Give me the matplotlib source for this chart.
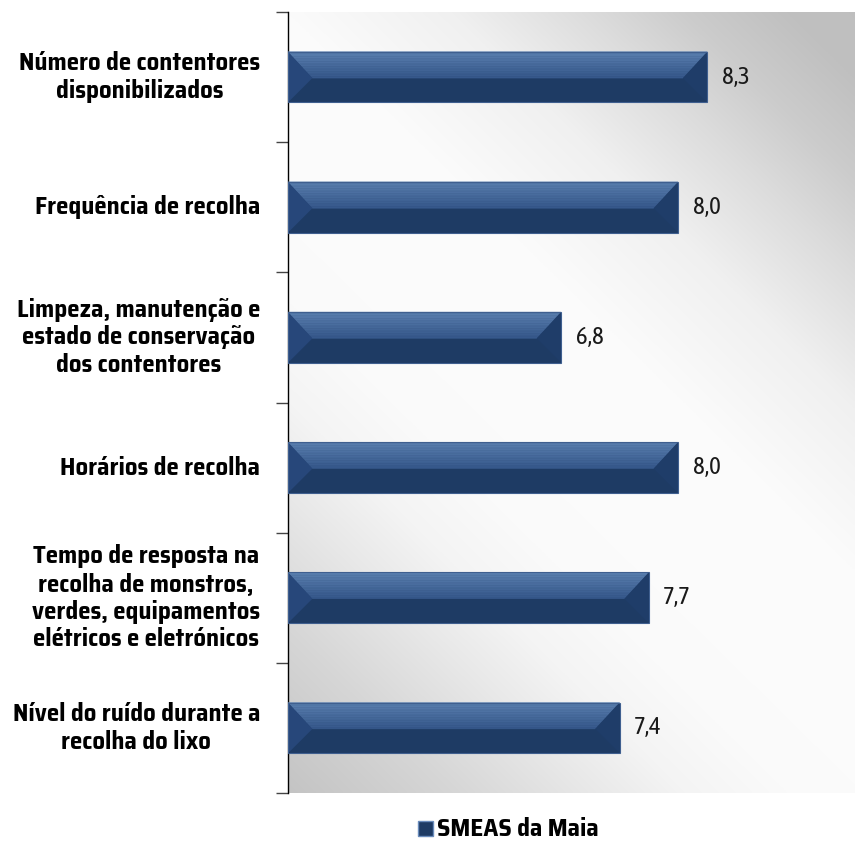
import matplotlib.pyplot as plt
import numpy as np
from matplotlib.patches import Polygon, Rectangle
from matplotlib import font_manager
from matplotlib.colors import to_rgb

categories = [
    'Número de contentores\ndisponibilizados',
    'Frequência de recolha',
    'Limpeza, manutenção e\nestado de conservação\ndos contentores',
    'Horários de recolha',
    'Tempo de resposta na\nrecolha de monstros,\nverdes, equipamentos\nelétricos e eletrónicos',
    'Nível do ruído durante a\nrecolha do lixo',
]
values = [8.3, 8.0, 6.8, 8.0, 7.7, 7.4]
value_labels = ['8,3', '8,0', '6,8', '8,0', '7,7', '7,4']
series_name = 'SMEAS da Maia'

fig = plt.figure(figsize=(8.55, 8.48), dpi=100)
renderer = fig.canvas.get_renderer()


def text_width(fp, s, size):
    t = fig.text(0, 0, s, fontproperties=fp, fontsize=size)
    w = t.get_window_extent(renderer).width
    t.remove()
    return w


def weight_num(w):
    if isinstance(w, (int, float)):
        return w
    return font_manager.weight_dict.get(w, 400)


# the original uses Arial Narrow: look for a narrow / condensed sans face and size it
# so that a few label widths match the original
def pick_font(bold, samples):
    cands = []
    for f in font_manager.fontManager.ttflist:
        fn = f.fname.lower()
        nm = f.name.lower()
        if 'mono' in fn or 'mono' in nm or 'serif' in nm or 'cjk' in nm:
            continue
        if 'italic' in fn or 'oblique' in fn or f.style != 'normal':
            continue
        if not ('narrow' in fn or 'condensed' in fn or f.stretch in ('condensed', 'semi-condensed', 'extra-condensed')):
            continue
        wn = weight_num(f.weight)
        if bold and wn != 700:
            continue
        if not bold and wn != 400:
            continue
        cands.append(f.fname)
    best = None
    for fname in cands:
        fp = font_manager.FontProperties(fname=fname)
        ws = np.array([text_width(fp, s, 18) for s, _ in samples])
        tg = np.array([t for _, t in samples], dtype=float)
        k = np.median(tg / ws)
        err = np.sqrt(np.mean((k * ws / tg - 1) ** 2))
        score = 10 * err + abs(np.log(k))
        if best is None or score < best[0]:
            best = (score, fp, k)
    if best is None:
        fp = font_manager.FontProperties(family='Liberation Sans', weight='bold' if bold else 'normal')
        ws = np.array([text_width(fp, s, 18) for s, _ in samples])
        tg = np.array([t for _, t in samples], dtype=float)
        return fp, 18 * np.median(tg / ws)
    return best[1], 18 * best[2]


fp_bold, size_bold = pick_font(True, [('Número de contentores', 237), ('Frequência de recolha', 227),
                                      ('Limpeza, manutenção e', 244), ('Nível do ruído durante a', 247),
                                      ('Horários de recolha', 199), ('elétricos e eletrónicos', 227)])
fp_reg, size_reg = pick_font(False, [('8,3', 28), ('7,7', 28)])

ax = fig.add_axes([288 / 855, 55 / 848, 567 / 855, 781 / 848])

# background: light band from top-left to bottom-right, grey towards the other two corners
gx, gy = np.meshgrid(np.linspace(0, 1, 400), np.linspace(1, 0, 400))
s = gx + 1.4 * gy
g = np.interp(s, [0, 0.29, 0.53, 0.7, 0.88, 1.15, 1.4, 1.69, 1.93, 2.1, 2.28, 2.5],
              [196, 214, 232, 244, 250, 252, 251, 240, 220, 204, 192, 190]) / 255
ax.imshow(np.dstack([g, g, g]), extent=(0, 1, 0, 1), transform=ax.transAxes,
          aspect='auto', zorder=0, interpolation='bilinear')

ypos = np.arange(len(categories))
h = 0.39
bars = ax.barh(ypos, values, height=h, left=0, color='#1e3b64',
               edgecolor='none', zorder=2)

xmin, xmax = 4.0, 4.0 + 567 / 97.5
bx = 0.25  # bevel width (data units)
c_top, c_mid = np.array(to_rgb('#5b80b0')), np.array(to_rgb('#35578a'))
for b in bars:
    x0 = xmin
    x1 = b.get_x() + b.get_width()
    top = b.get_y()          # axis inverted: smaller y is the upper edge
    bot = b.get_y() + b.get_height()
    mid = top + 0.52 * b.get_height()
    nb = 16
    for i in range(nb):
        fa, fb_ = i / nb, (i + 1) / nb
        ya = top + (mid - top) * fa
        yb = top + (mid - top) * fb_
        col = c_top + (c_mid - c_top) * (i + 0.5) / nb
        ax.add_patch(Polygon([(x0 + bx * fa, ya), (x1 - bx * fa, ya),
                              (x1 - bx * fb_, yb), (x0 + bx * fb_, yb)],
                             closed=True, facecolor=col, edgecolor=col, linewidth=0.3, zorder=3))
    ax.add_patch(Polygon([(x0, top), (x0 + bx, mid), (x0, bot)], closed=True,
                         facecolor='#27477a', edgecolor='none', zorder=3))
    ax.add_patch(Polygon([(x1, top), (x1 - bx, mid), (x1, bot)], closed=True,
                         facecolor='#1f3d69', edgecolor='none', zorder=3))
    ax.add_patch(Rectangle((x0, top), x1 - x0, bot - top, facecolor='none',
                           edgecolor='#3f5f8f', linewidth=0.8, zorder=4))

for y, v, lab in zip(ypos, values, value_labels):
    ax.text(v + 0.15, y, lab, va='center', ha='left', fontproperties=fp_reg,
            fontsize=size_reg, color='#1a1a1a', zorder=5)

ax.set_xlim(xmin, xmax)
ax.set_ylim(len(categories) - 0.5, -0.5)

for sp in ['top', 'right', 'bottom']:
    ax.spines[sp].set_visible(False)
ax.spines['left'].set_color('black')
ax.spines['left'].set_linewidth(1.0)
ax.set_xticks([])
ax.set_yticks(np.arange(-0.5, len(categories), 1.0))
ax.set_yticklabels([])
ax.tick_params(axis='y', length=9, width=1, color='#444444')

tr = ax.get_yaxis_transform()
for y, c in zip(ypos, categories):
    ax.text(-28 / 567, y, c, transform=tr, ha='right', va='center', multialignment='center',
            fontproperties=fp_bold, fontsize=size_bold, color='black', linespacing=1.2)

# legend
ax.add_patch(Rectangle((418 / 855, 1 - 836 / 848), 15 / 855, 15 / 848, transform=fig.transFigure,
                       facecolor='#1e3b64', edgecolor='#6a8cbc', linewidth=1.0, clip_on=False))
fig.text(437 / 855, 1 - 829 / 848, series_name, ha='left', va='center', fontproperties=fp_bold,
         fontsize=size_bold, color='black')

fig.savefig('out.png', dpi=100)
